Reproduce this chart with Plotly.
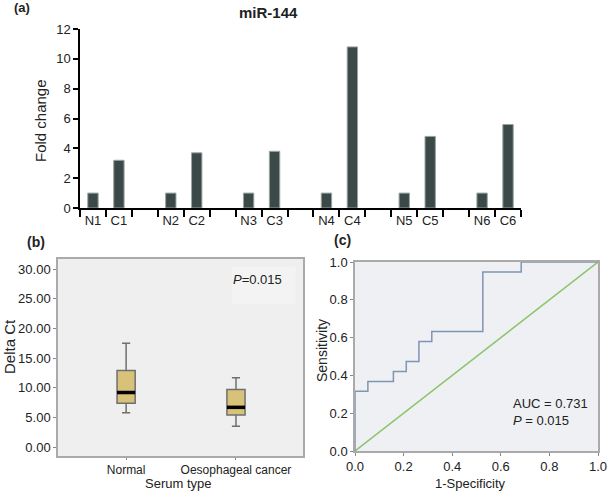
import plotly.graph_objects as go

# ---------- data ----------
bar_categories = ["N1", "C1", " ", "N2", "C2", "  ", "N3", "C3", "   ", "N4", "C4", "    ",
                  "N5", "C5", "     ", "N6", "C6"]
bar_values = [1, 3.2, None, 1, 3.7, None, 1, 3.8, None, 1, 10.8, None, 1, 4.8, None, 1, 5.6]
bar_yticks = [0, 2, 4, 6, 8, 10, 12]

box_groups = ["Normal", "Oesophageal cancer"]
box_lower = [5.8, 3.5]
box_q1 = [7.4, 5.4]
box_median = [9.2, 6.7]
box_q3 = [12.9, 9.7]
box_upper = [17.5, 11.7]
box_yticks = [0, 5, 10, 15, 20, 25, 30]

roc_fpr = [0, 0, 0.053, 0.053, 0.158, 0.158, 0.211, 0.211, 0.263, 0.263, 0.316, 0.316,
           0.526, 0.526, 0.684, 0.684, 1.0]
roc_tpr = [0, 0.316, 0.316, 0.368, 0.368, 0.421, 0.421, 0.474, 0.474, 0.579, 0.579, 0.632,
           0.632, 0.947, 0.947, 1.0, 1.0]
ref_line = [0, 1]
roc_ticks = [0, 0.2, 0.4, 0.6, 0.8, 1.0]

W, H = 612, 498
def px(x):
    return x / W
def py(y):
    return 1 - y / H

FONT = "Liberation Sans, Arial, sans-serif"
fig = go.Figure()

# ---------- panel (a) ----------
fig.add_trace(go.Bar(x=bar_categories, y=bar_values, marker=dict(color="#3b4a48",
                     line=dict(color="#9aa5a3", width=1)), xaxis="x", yaxis="y",
                     showlegend=False))

# ---------- panel (b) ----------
box_w = 0.165
for i, g in enumerate(box_groups):
    fig.add_trace(go.Box(x=[i], q1=[box_q1[i]], median=[box_median[i]], q3=[box_q3[i]],
                         lowerfence=[box_lower[i]], upperfence=[box_upper[i]],
                         width=box_w, whiskerwidth=0.45,
                         fillcolor="#d8c27a", line=dict(color="#6f6f6f", width=1.5),
                         xaxis="x2", yaxis="y2", showlegend=False, boxpoints=False))
    fig.add_trace(go.Scatter(x=[i - box_w / 2, i + box_w / 2], y=[box_median[i]] * 2,
                             mode="lines", line=dict(color="black", width=3.5),
                             xaxis="x2", yaxis="y2", showlegend=False))

# ---------- panel (c) ----------
fig.add_trace(go.Scatter(x=ref_line, y=ref_line, mode="lines",
                         line=dict(color="#8cc56f", width=1.5), xaxis="x3", yaxis="y3",
                         showlegend=False))
fig.add_trace(go.Scatter(x=roc_fpr, y=roc_tpr, mode="lines",
                         line=dict(color="#7f95b5", width=1.5), xaxis="x3", yaxis="y3",
                         showlegend=False, cliponaxis=False))

tickfont = dict(family=FONT, size=13, color="#222")
common_b = dict(ticks="outside", ticklen=3, tickcolor="#888", showline=True, mirror=True,
                linecolor="#aaaaaa", linewidth=1.5, showgrid=False, zeroline=False,
                tickfont=tickfont, automargin=False)
fig.update_layout(
    width=W, height=H, margin=dict(l=0, r=0, t=0, b=0, autoexpand=False),
    paper_bgcolor="white", plot_bgcolor="white",
    font=dict(family=FONT, color="#222"),
    bargap=0.6,
    xaxis=dict(domain=[px(80), px(521)], type="category", tickson="boundaries",
               ticks="outside", ticklen=7, tickwidth=1.5, tickcolor="black", tickangle=0,
               showline=True, linecolor="black", linewidth=1.5, showgrid=False,
               tickfont=tickfont, anchor="y", automargin=False),
    yaxis=dict(domain=[py(208), py(29)], range=[0, 12], tickvals=bar_yticks,
               ticks="outside", ticklen=5, tickwidth=1.5, tickcolor="black",
               showline=True, linecolor="black", linewidth=1.5, showgrid=False, zeroline=False,
               tickfont=tickfont, anchor="x", automargin=False),
    xaxis2=dict(domain=[px(58), px(303)], range=[-0.62, 1.61], tickvals=[0, 1],
                ticktext=box_groups, anchor="y2",
                **{**common_b, "tickfont": dict(family=FONT, size=12, color="#222"), "ticklen": 2}),
    yaxis2=dict(domain=[py(456), py(259)], range=[-1.5, 31.7], tickvals=box_yticks,
                tickformat=".2f", anchor="x2", **common_b),
    xaxis3=dict(domain=[px(355), px(598)], range=[0, 1], tickvals=roc_ticks,
                tickformat=".1f", anchor="y3", **common_b),
    yaxis3=dict(domain=[py(451), py(262)], range=[0, 1], tickvals=roc_ticks,
                tickformat=".1f", anchor="x3", **common_b),
    shapes=[
        dict(type="rect", xref="x2 domain", yref="y2 domain", x0=0, x1=1, y0=0, y1=1,
             fillcolor="#efefef", line=dict(width=0), layer="below"),
        dict(type="rect", xref="x2 domain", yref="y2 domain", x0=0.71, x1=0.97, y0=0.77, y1=0.96,
             fillcolor="#f3f3f3", line=dict(width=0), layer="below"),
        dict(type="rect", xref="x3 domain", yref="y3 domain", x0=0, x1=1, y0=0, y1=1,
             fillcolor="#eef0f3", line=dict(width=0), layer="below"),
    ],
)

def note(text, x, y, size, angle=0):
    fig.add_annotation(text=text, x=px(x), y=py(y), xref="paper", yref="paper",
                       xanchor="center", yanchor="middle", textangle=angle,
                       showarrow=False, font=dict(family=FONT, size=size, color="#222"))

note("<b>miR-144</b>", 268, 13, 15)
note("<b>(a)</b>", 22, 8, 13)
note("<b>(b)</b>", 36, 242, 14)
note("<b>(c)</b>", 342, 240, 14)
note("Fold change", 40, 121, 15, -90)
note("Delta Ct", 9, 347, 15, -90)
note("Serum type", 178, 483, 13)
note("Sensitivity", 322, 351, 14, -90)
note("1-Specificity", 470, 483, 13)
note("<i>P</i>=0.015", 257, 279, 13)
fig.add_annotation(text="AUC = 0.731<br><i>P</i> = 0.015", x=0.64, y=0.30, xref="x3", yref="y3",
                   xanchor="left", yanchor="top", align="left", showarrow=False,
                   font=dict(family=FONT, size=13, color="#222"))

fig.write_html("out.html", config={"displayModeBar": False},
               post_script="document.body.style.margin='0';document.body.style.overflow='hidden';")
